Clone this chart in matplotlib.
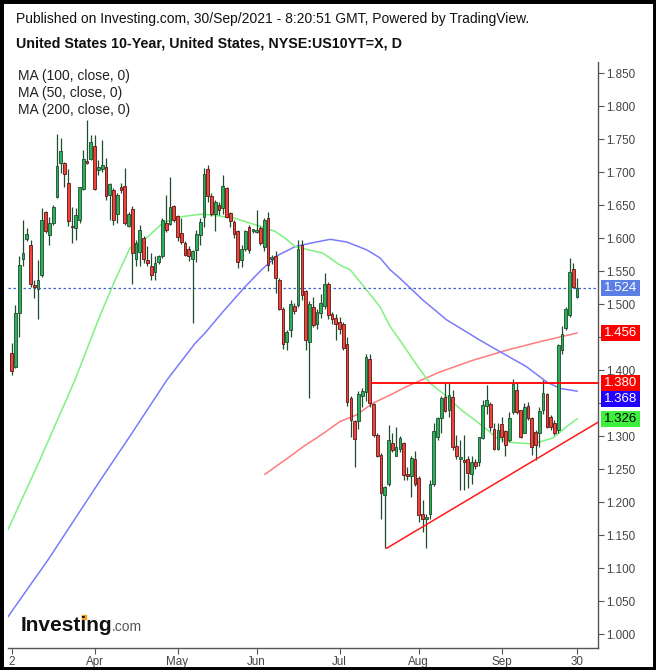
import numpy as np
import pandas as pd
import matplotlib
matplotlib.use("Agg")
import matplotlib.pyplot as plt
from matplotlib.patches import Rectangle
from matplotlib.lines import Line2D
from matplotlib.transforms import blended_transform_factory

plt.rcParams["font.family"] = ["Liberation Sans", "DejaVu Sans"]

# daily candles, 2 Mar 2021 .. 30 Sep 2021 (trading days as shown on the chart)
dates = pd.bdate_range("2021-03-02", "2021-09-30").drop(
    pd.to_datetime(["2021-07-05", "2021-09-06"]))

opens = [1.426, 1.404, 1.487, 1.568, 1.599, 1.590, 1.528, 1.522, 1.544, 1.640,
         1.605, 1.623, 1.662, 1.713, 1.713, 1.684, 1.618, 1.615, 1.628, 1.674,
         1.716, 1.719, 1.739, 1.703, 1.704, 1.707, 1.665, 1.673, 1.636, 1.677,
         1.679, 1.618, 1.644, 1.568, 1.579, 1.600, 1.567, 1.557, 1.549, 1.564,
         1.572, 1.622, 1.621, 1.648, 1.633, 1.607, 1.593, 1.583, 1.568, 1.582,
         1.605, 1.632, 1.705, 1.664, 1.637, 1.650, 1.645, 1.676, 1.638, 1.624,
         1.611, 1.566, 1.583, 1.617, 1.611, 1.609, 1.615, 1.587, 1.630, 1.568,
         1.573, 1.537, 1.493, 1.443, 1.461, 1.497, 1.498, 1.589, 1.519, 1.442,
         1.496, 1.470, 1.487, 1.497, 1.530, 1.485, 1.479, 1.473, 1.470, 1.439,
         1.358, 1.322, 1.322, 1.361, 1.367, 1.416, 1.348, 1.302, 1.271, 1.211,
         1.228, 1.289, 1.270, 1.281, 1.290, 1.243, 1.239, 1.265, 1.237, 1.182,
         1.174, 1.182, 1.228, 1.298, 1.327, 1.359, 1.340, 1.359, 1.285, 1.265,
         1.262, 1.265, 1.243, 1.261, 1.260, 1.297, 1.345, 1.348, 1.310, 1.281,
         1.318, 1.307, 1.294, 1.337, 1.370, 1.339, 1.305, 1.345, 1.327, 1.306,
         1.305, 1.339, 1.364, 1.329, 1.319, 1.309, 1.430, 1.464, 1.483, 1.553,
         1.511]
highs = [1.441, 1.498, 1.572, 1.627, 1.615, 1.597, 1.536, 1.567, 1.645, 1.641,
         1.632, 1.650, 1.758, 1.751, 1.715, 1.704, 1.647, 1.645, 1.678, 1.733,
         1.779, 1.756, 1.756, 1.718, 1.748, 1.721, 1.683, 1.676, 1.668, 1.684,
         1.706, 1.640, 1.648, 1.597, 1.620, 1.603, 1.588, 1.577, 1.572, 1.575,
         1.630, 1.665, 1.693, 1.650, 1.635, 1.630, 1.595, 1.588, 1.582, 1.612,
         1.630, 1.706, 1.711, 1.668, 1.657, 1.655, 1.695, 1.678, 1.640, 1.628,
         1.612, 1.589, 1.612, 1.620, 1.613, 1.642, 1.618, 1.630, 1.640, 1.575,
         1.580, 1.540, 1.495, 1.460, 1.506, 1.502, 1.597, 1.597, 1.521, 1.505,
         1.511, 1.492, 1.515, 1.547, 1.533, 1.488, 1.485, 1.480, 1.472, 1.450,
         1.360, 1.325, 1.368, 1.372, 1.425, 1.425, 1.350, 1.305, 1.274, 1.225,
         1.317, 1.304, 1.314, 1.300, 1.291, 1.253, 1.270, 1.277, 1.240, 1.203,
         1.182, 1.233, 1.319, 1.329, 1.360, 1.380, 1.380, 1.370, 1.302, 1.294,
         1.302, 1.269, 1.269, 1.265, 1.299, 1.355, 1.377, 1.352, 1.319, 1.319,
         1.329, 1.309, 1.337, 1.387, 1.380, 1.340, 1.350, 1.352, 1.329, 1.309,
         1.344, 1.385, 1.365, 1.332, 1.324, 1.440, 1.466, 1.496, 1.569, 1.562,
         1.539]
lows = [1.392, 1.403, 1.450, 1.557, 1.595, 1.526, 1.509, 1.478, 1.541, 1.607,
        1.589, 1.620, 1.660, 1.698, 1.678, 1.618, 1.592, 1.597, 1.622, 1.673,
        1.712, 1.718, 1.673, 1.695, 1.700, 1.658, 1.627, 1.620, 1.622, 1.668,
        1.620, 1.617, 1.531, 1.557, 1.557, 1.562, 1.557, 1.536, 1.536, 1.560,
        1.570, 1.609, 1.620, 1.625, 1.595, 1.591, 1.572, 1.565, 1.471, 1.564,
        1.589, 1.617, 1.655, 1.633, 1.610, 1.635, 1.637, 1.630, 1.617, 1.600,
        1.555, 1.556, 1.580, 1.578, 1.608, 1.607, 1.589, 1.580, 1.550, 1.560,
        1.516, 1.491, 1.432, 1.430, 1.450, 1.485, 1.495, 1.506, 1.430, 1.358,
        1.465, 1.462, 1.479, 1.493, 1.478, 1.470, 1.445, 1.455, 1.430, 1.345,
        1.299, 1.253, 1.310, 1.344, 1.353, 1.344, 1.298, 1.268, 1.175, 1.130,
        1.225, 1.276, 1.269, 1.276, 1.233, 1.233, 1.208, 1.225, 1.170, 1.155,
        1.130, 1.175, 1.225, 1.294, 1.304, 1.337, 1.329, 1.279, 1.265, 1.218,
        1.218, 1.221, 1.228, 1.250, 1.254, 1.295, 1.334, 1.307, 1.279, 1.279,
        1.291, 1.269, 1.291, 1.334, 1.334, 1.297, 1.304, 1.324, 1.271, 1.264,
        1.284, 1.334, 1.312, 1.309, 1.302, 1.305, 1.425, 1.460, 1.481, 1.524,
        1.509]
closes = [1.399, 1.486, 1.559, 1.578, 1.606, 1.530, 1.526, 1.537, 1.627, 1.611,
          1.623, 1.647, 1.709, 1.732, 1.697, 1.626, 1.616, 1.635, 1.677, 1.719,
          1.713, 1.746, 1.675, 1.708, 1.711, 1.664, 1.682, 1.628, 1.665, 1.672,
          1.622, 1.636, 1.577, 1.592, 1.612, 1.568, 1.562, 1.544, 1.562, 1.572,
          1.627, 1.612, 1.647, 1.627, 1.601, 1.594, 1.574, 1.572, 1.581, 1.606,
          1.624, 1.697, 1.663, 1.637, 1.654, 1.642, 1.679, 1.632, 1.626, 1.606,
          1.563, 1.583, 1.610, 1.582, 1.611, 1.611, 1.592, 1.627, 1.559, 1.570,
          1.540, 1.493, 1.439, 1.457, 1.500, 1.490, 1.583, 1.514, 1.445, 1.500,
          1.468, 1.488, 1.502, 1.530, 1.483, 1.477, 1.470, 1.462, 1.433, 1.352,
          1.324, 1.295, 1.364, 1.368, 1.419, 1.350, 1.302, 1.270, 1.213, 1.223,
          1.294, 1.279, 1.284, 1.297, 1.241, 1.239, 1.266, 1.227, 1.180, 1.175,
          1.178, 1.227, 1.308, 1.327, 1.357, 1.338, 1.362, 1.284, 1.269, 1.268,
          1.261, 1.244, 1.261, 1.254, 1.298, 1.347, 1.355, 1.314, 1.281, 1.309,
          1.299, 1.286, 1.327, 1.379, 1.337, 1.298, 1.344, 1.327, 1.284, 1.286,
          1.338, 1.365, 1.314, 1.314, 1.305, 1.438, 1.455, 1.492, 1.549, 1.526,
          1.524]

# moving averages (bar index, value)
ma50_x = [-1, 7.5, 16.8, 23.4, 27.4, 31.4, 35.8, 40.1, 44.7, 50.0, 53.0, 59.2,
          66.3, 69.9, 72.5, 75.2, 82.6, 87.1, 89.8, 94.2, 97.7, 100.4, 103.0,
          107.8, 111.0, 115.0, 119.4, 122.9, 125.6, 128.7, 133.0, 138.3, 143.6,
          147.2, 150]
ma50_y = [1.158, 1.264, 1.385, 1.482, 1.536, 1.585, 1.600, 1.623, 1.632, 1.636,
          1.635, 1.630, 1.617, 1.610, 1.600, 1.587, 1.577, 1.559, 1.552, 1.521,
          1.496, 1.466, 1.445, 1.405, 1.380, 1.362, 1.339, 1.324, 1.312, 1.297,
          1.290, 1.288, 1.297, 1.314, 1.326]
ma100_x = [-1, 2.2, 4.9, 9.6, 23.4, 31.4, 41.2, 48.6, 51.3, 55.7, 61.9, 66.3,
           70.7, 75.2, 79.1, 84.5, 88.9, 94.2, 97.7, 100.4, 103.0, 109.1, 115.4,
           124.3, 130.4, 136.6, 141.9, 145.5, 150]
ma100_y = [1.026, 1.052, 1.074, 1.112, 1.232, 1.300, 1.385, 1.440, 1.456, 1.486,
           1.526, 1.552, 1.574, 1.587, 1.592, 1.598, 1.594, 1.582, 1.570, 1.552,
           1.539, 1.506, 1.476, 1.445, 1.425, 1.405, 1.382, 1.372, 1.368]
ma200_x = [67.2, 73.8, 77.4, 82.7, 87.1, 91.5, 95.9, 100.4, 104.8, 113.6, 122.5,
           131.3, 140.2, 150]
ma200_y = [1.242, 1.269, 1.284, 1.304, 1.322, 1.332, 1.350, 1.362, 1.375, 1.397,
           1.415, 1.430, 1.443, 1.456]

# drawn lines: horizontal resistance and rising support
res_x = [95.6, 155.6]
res_y = [1.380, 1.380]
trend_x = [99.5, 155.6]
trend_y = [1.130, 1.321]

last_price = 1.524
tags = [  # value, shown at, box colour, text colour
    (1.524, 1.524, "#5b7ee5", "white"),
    (1.456, 1.456, "#ff0000", "white"),
    (1.380, 1.380, "#ff0000", "white"),
    (1.368, 1.356, "#2200ff", "white"),
    (1.326, 1.326, "#3cf03c", "black"),
]
hidden_ticks = [1.35, 1.45]  # scale labels covered by the tags

o = np.array(opens)
h = np.array(highs)
l = np.array(lows)
c = np.array(closes)
idx = np.arange(len(o))
up = c >= o

fig = plt.figure(figsize=(6.56, 6.70), dpi=100)
ax = fig.add_axes([8 / 656, 22 / 670, 590 / 656, 586 / 670])

ax.plot(ma200_x, ma200_y, color="#ff7b7b", lw=1.1, zorder=2)
ax.plot(ma100_x, ma100_y, color="#7a7aff", lw=1.1, zorder=2)
ax.plot(ma50_x, ma50_y, color="#7ef27e", lw=1.1, zorder=2)

ax.axhline(last_price, color="#3f5fd6", lw=0.9, ls=(0, (2, 2)), zorder=2)

wick = "#1f4d2e"
ax.vlines(idx, l, h, color=wick, lw=0.9, zorder=3)
lo = np.minimum(o, c)
ht = np.maximum(np.abs(c - o), 0.0025)
ax.bar(idx[up], ht[up], bottom=lo[up], width=0.72, color="#2cb05a",
       edgecolor="#1d4a2c", linewidth=0.6, zorder=4)
ax.bar(idx[~up], ht[~up], bottom=lo[~up], width=0.72, color="#ef4539",
       edgecolor="#5a1616", linewidth=0.6, zorder=4)

ax.plot(res_x, res_y, color="#ff0000", lw=1.3, zorder=5, clip_on=False)
ax.plot(trend_x, trend_y, color="#ff1a1a", lw=1.1, zorder=5)

ax.set_xlim(-0.98, 155.56)
ax.set_ylim(0.9788, 1.8667)

# axes styling
for s in ("left", "top"):
    ax.spines[s].set_visible(False)
for s in ("right", "bottom"):
    ax.spines[s].set_color("#555555")
    ax.spines[s].set_linewidth(1.0)
ax.yaxis.tick_right()
yt = np.round(np.arange(1.0, 1.8501, 0.05), 3)
ax.set_yticks(yt)
ax.set_yticklabels(["" if any(abs(v - hv) < 1e-6 for hv in hidden_ticks)
                    else f"{v:.3f}" for v in yt])
ax.tick_params(axis="y", length=4, width=0.8, color="#555555", labelsize=8.4,
               labelcolor="#444444", pad=2)

month_pos = [0]
month_lab = ["2"]
for m in range(4, 10):
    first = np.where(dates.month == m)[0][0]
    month_pos.append(first)
    month_lab.append(dates[first].strftime("%b"))
month_pos.append(len(dates) - 1)
month_lab.append(str(dates[-1].day))
ax.set_xticks(month_pos)
ax.set_xticklabels(month_lab)
ax.tick_params(axis="x", length=4, width=0.8, color="#555555", labelsize=8.4,
               labelcolor="#444444", pad=2)

# price tags on the right scale
bt = blended_transform_factory(ax.transAxes, ax.transData)
bx0 = (601 - 8) / 590
bw = 39 / 590
bh = 15.5 / 660
for val, at, bg, fg in tags:
    ax.add_patch(Rectangle((bx0, at - bh / 2), bw, bh, transform=bt,
                           facecolor=bg, edgecolor="none", clip_on=False, zorder=10))
    ax.text(bx0 + bw / 2, at, f"{val:.3f}", transform=bt, ha="center",
            va="center", color=fg, fontsize=9.5, zorder=11, clip_on=False)

# header texts
fig.text(16 / 656, 1 - 19 / 670,
         "Published on Investing.com, 30/Sep/2021 - 8:20:51 GMT, Powered by TradingView.",
         fontsize=10, color="#111111", va="center", ha="left")
fig.text(16 / 656, 1 - 44 / 670,
         "United States 10-Year, United States, NYSE:US10YT=X, D",
         fontsize=10.3, weight="bold", color="#111111", va="center", ha="left")
for i, t in enumerate(["MA (100, close, 0)", "MA (50, close, 0)", "MA (200, close, 0)"]):
    fig.text(18 / 656, 1 - (76 + 17 * i) / 670, t, fontsize=10, color="#222222",
             va="center", ha="left")

# logo
fig.text(21 / 656, 1 - 631 / 670, "Investing", fontsize=15, weight="bold",
         color="#111111", va="baseline", ha="left")
fig.text(112 / 656, 1 - 631 / 670, ".com", fontsize=10, color="#555555",
         va="baseline", ha="left")
fig.add_artist(Line2D([84 / 656], [1 - 617 / 670], marker="s", ms=3.2,
                      color="#f5a31a", transform=fig.transFigure))

# black frame around the picture
fig.add_artist(Rectangle((0, 0), 1, 1, transform=fig.transFigure, fill=False,
                         edgecolor="black", linewidth=5))

fig.savefig("out.png", dpi=100, facecolor="white")
